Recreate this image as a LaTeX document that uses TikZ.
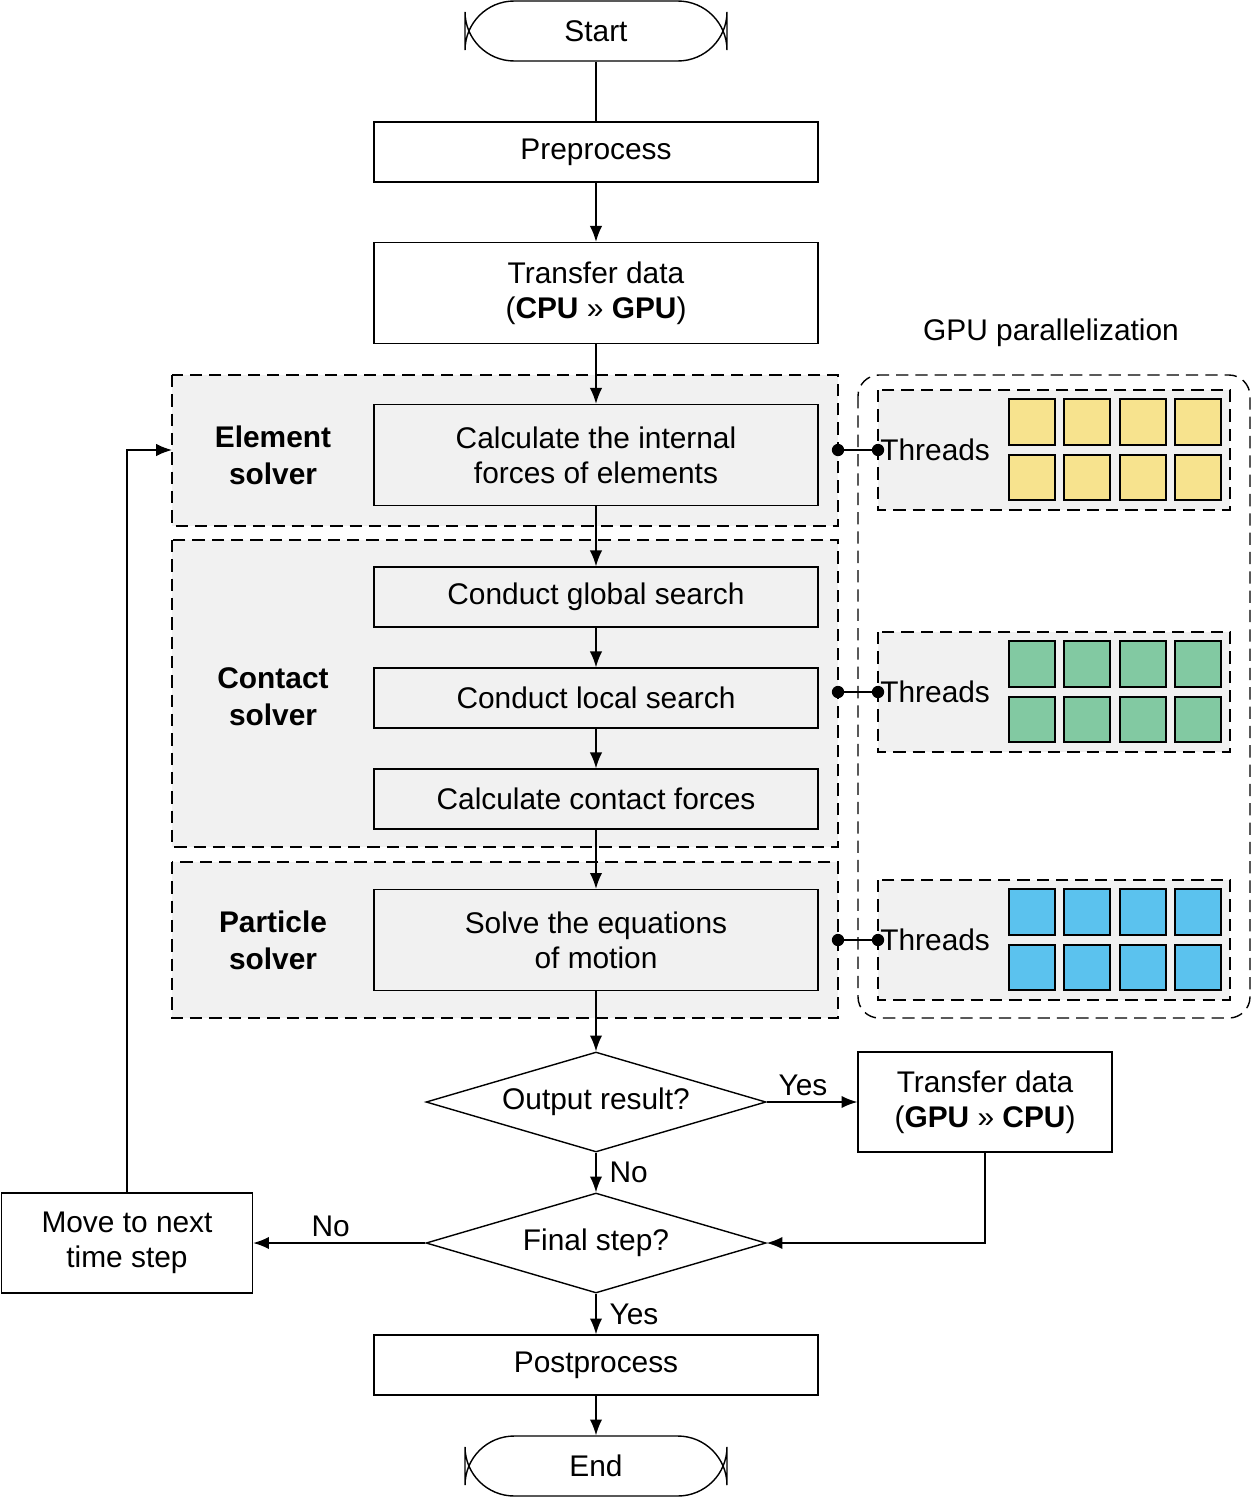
\documentclass[tikz,border=0pt]{standalone}
\usepackage{fontspec}
\setmainfont{Liberation Sans}
\usetikzlibrary{shapes.geometric,arrows.meta}
\definecolor{bgg}{HTML}{F1F1F1}
\definecolor{ty}{HTML}{F7E38E}
\definecolor{tg}{HTML}{82C9A2}
\definecolor{tb}{HTML}{5BC2EE}
\tikzset{
 lbl/.style={font=\fontsize{17}{20}\selectfont, align=center},
 bx/.style={draw, line width=0.8pt, fill=#1, lbl, inner sep=0pt},
 bx/.default=white,
 reg/.style={draw, dashed, line width=0.8pt, fill=bgg, dash pattern=on 7pt off 4pt},
 arr/.style={-{Latex[length=9pt,width=7pt]}, line width=0.8pt},
 ln/.style={line width=0.8pt},
 dm/.style={draw, diamond, aspect=3.4, line width=0.8pt, fill=white, lbl, inner sep=0pt, minimum width=6.8cm, minimum height=2cm},
 sq/.style={draw, line width=0.6pt, fill=#1},
}
\begin{document}
\begin{tikzpicture}[x=0.02cm,y=-0.02cm]
\useasboundingbox (0,0) rectangle (1252,1497);
% regions
\draw[reg] (172,375) rectangle (838,526);
\draw[reg] (172,540) rectangle (838,847);
\draw[reg] (172,862) rectangle (838,1018);
\draw[reg, rounded corners=12pt, fill=white] (858,375) rectangle (1250,1018);
\node[lbl] at (1051,333) {GPU parallelization};
\node[lbl, font=\fontsize{17}{21}\selectfont\bfseries] at (273,455) {Element\\solver};
\node[lbl, font=\fontsize{17}{21}\selectfont\bfseries] at (273,697) {Contact\\solver};
\node[lbl, font=\fontsize{17}{21}\selectfont\bfseries] at (273,940) {Particle\\solver};
% threads
\foreach \yy/\cc/\nm in {390/ty/ta,632/tg/tb,880/tb/tc}{
  \draw[reg] (878,\yy) rectangle (1230,\yy+120);
  \node[lbl, anchor=west, inner sep=0pt] (\nm) at (880,\yy+60) {Threads};
  \foreach \xx in {1009,1064,1120,1175}{
    \draw[sq=\cc] (\xx,\yy+9) rectangle (\xx+46,\yy+55);
    \draw[sq=\cc] (\xx,\yy+65) rectangle (\xx+46,\yy+110);
  }
}
% nodes
\node[bx, rounded corners=28pt, minimum width=5.24cm, minimum height=1.2cm] (start) at (596,31) {Start};
\node[bx, minimum width=8.88cm, minimum height=1.2cm] (pre) at (596,152) {Preprocess};
\node[bx, minimum width=8.88cm, minimum height=2.02cm] (tr1) at (596,293) {Transfer data\\(\textbf{CPU} >> \textbf{GPU})};
\node[bx=bgg, minimum width=8.88cm, minimum height=2.02cm] (cif) at (596,455) {Calculate the internal\\forces of elements};
\node[bx=bgg, minimum width=8.88cm, minimum height=1.2cm] (cgs) at (596,597) {Conduct global search};
\node[bx=bgg, minimum width=8.88cm, minimum height=1.2cm] (cls) at (596,698) {Conduct local search};
\node[bx=bgg, minimum width=8.88cm, minimum height=1.2cm] (ccf) at (596,799) {Calculate contact forces};
\node[bx=bgg, minimum width=8.88cm, minimum height=2.02cm] (sem) at (596,940) {Solve the equations\\of motion};
\node[dm] (out) at (596,1102) {Output result?};
\node[bx, minimum width=5.08cm, minimum height=2cm] (tr2) at (985,1102) {Transfer data\\(\textbf{GPU} >> \textbf{CPU})};
\node[dm] (fin) at (596,1243) {Final step?};
\node[bx, minimum width=5.02cm, minimum height=2cm] (mv) at (127,1243) {Move to next\\time step};
\node[bx, minimum width=8.88cm, minimum height=1.2cm] (post) at (596,1365) {Postprocess};
\node[bx, rounded corners=28pt, minimum width=5.24cm, minimum height=1.2cm] (end) at (596,1466) {End};
% connectors
\draw[ln] (start) -- (pre);
\draw[arr] (pre) -- (tr1);
\draw[arr] (tr1) -- (cif);
\draw[arr] (cif) -- (cgs);
\draw[arr] (cgs) -- (cls);
\draw[arr] (cls) -- (ccf);
\draw[arr] (ccf) -- (sem);
\draw[arr] (sem) -- (out);
\draw[arr] (out) -- node[lbl, right, pos=0.5, xshift=4pt] {No} (fin);
\draw[arr] (out.east) -- node[lbl, above, pos=0.4] {Yes} (tr2.west);
\draw[arr] (tr2.south) |- (fin.east);
\draw[arr] (fin.west) -- node[lbl, above, pos=0.55] {No} (mv.east);
\draw[arr] (fin) -- node[lbl, right, pos=0.5, xshift=4pt] {Yes} (post);
\draw[arr] (post) -- (end);
\coordinate (lp) at (172,450);
\draw[arr] (mv.north) |- (lp);
\foreach \nm/\yy in {ta/450,tb/692,tc/940}{
  \fill (838,\yy) circle (3.5pt);
  \fill (878,\yy) circle (3.5pt);
  \draw[ln] (838,\yy) -- (\nm.west);
}
\end{tikzpicture}
\end{document}
